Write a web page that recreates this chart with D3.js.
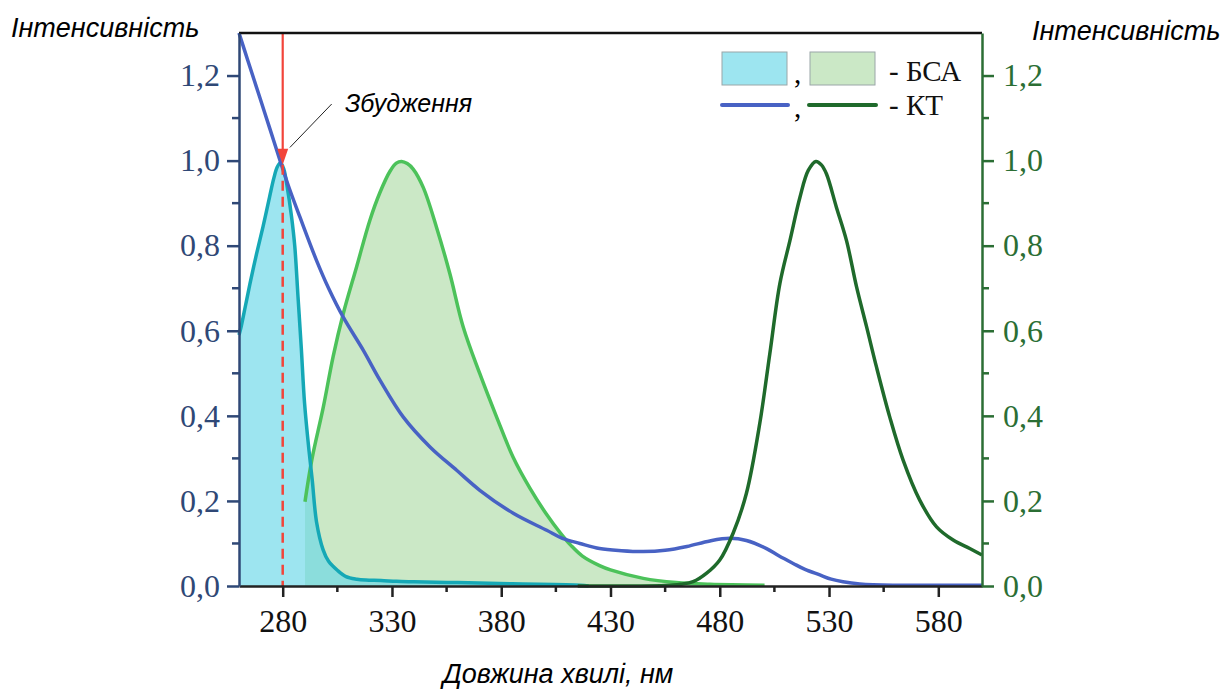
<!DOCTYPE html>
<html>
<head>
<meta charset="utf-8">
<script src="https://cdn.jsdelivr.net/npm/d3@7"></script>
<style>
  body { margin: 0; background: #fff; }
  svg { display: block; }
</style>
</head>
<body>
<script>
// BSA absorbance (cyan filled), [nm, intensity]
const bsaAbs = [
    [260, 0.59], [261, 0.61], [263, 0.66], [265, 0.71], [268, 0.78], [271, 0.845],
    [274, 0.915], [276, 0.96], [277.5, 0.985], [279, 0.995], [280.5, 0.98], [282, 0.94],
    [284, 0.87], [285.5, 0.80], [287, 0.68], [288.5, 0.56], [290, 0.43], [292, 0.32],
    [293.5, 0.25], [295.5, 0.15], [298.5, 0.085], [301, 0.058], [305, 0.037], [309, 0.022],
    [314, 0.016], [318, 0.014], [325, 0.013], [332, 0.011], [340, 0.010], [360, 0.008],
    [385, 0.005], [416, 0.002], [420, 0.0]
];

// BSA emission (green filled)
const bsaEm = [
    [290.2, 0.198], [293.3, 0.296], [298.6, 0.421], [303.1, 0.54], [307.7, 0.64],
    [313.8, 0.75], [319.9, 0.86], [324.5, 0.925], [329.1, 0.975], [332, 0.994],
    [334.4, 0.998], [337, 0.993], [339.7, 0.98], [344.3, 0.937], [350.4, 0.843],
    [356.5, 0.734], [362.6, 0.609], [370.2, 0.499], [377.9, 0.397], [385.5, 0.302],
    [393.1, 0.23], [400.8, 0.168], [407, 0.125], [412, 0.095], [417, 0.071],
    [425, 0.048], [430, 0.038], [445, 0.018], [460, 0.008], [475.5, 0.004], [500.5, 0.002]
];

// KT absorbance (blue line)
const ktAbs = [
    [260, 1.30], [264, 1.236], [269.6, 1.147], [274, 1.077], [278.8, 1.0], [283, 0.935],
    [287.9, 0.867], [295.5, 0.765], [301, 0.70], [307.7, 0.632], [316.9, 0.554],
    [324.5, 0.484], [335.2, 0.397], [347.4, 0.327], [359.6, 0.272], [370.2, 0.225],
    [385.5, 0.171], [400.8, 0.131], [408, 0.112], [416, 0.100], [425, 0.088],
    [435, 0.083], [445, 0.081], [455, 0.084], [465, 0.093], [475.5, 0.106],
    [484.6, 0.112], [492.2, 0.107], [501.4, 0.088], [507, 0.071], [513.6, 0.053],
    [519, 0.039], [525.8, 0.026], [531, 0.016], [536.4, 0.010], [544.1, 0.005],
    [559.2, 0.002], [600, 0.002]
];

// KT emission (dark green line, right axis)
const ktEm = [
    [415, 0.0], [440, 0.0], [455, 0.001], [462, 0.004], [467.8, 0.01], [474, 0.03],
    [480, 0.061], [486.1, 0.124], [492.2, 0.218], [498.3, 0.382], [502.9, 0.546],
    [507.5, 0.711], [512.1, 0.812], [516.7, 0.914], [520.5, 0.977], [524, 0.998],
    [526.5, 0.99], [528.8, 0.969], [533.4, 0.89], [538, 0.812], [542.6, 0.703],
    [547.2, 0.609], [551.7, 0.515], [557.8, 0.397], [563.9, 0.296], [571.5, 0.202],
    [579.2, 0.139], [586.8, 0.108], [594.4, 0.088], [600, 0.073]
];

const xTicks = [280, 330, 380, 430, 480, 530, 580];
const xMinor = [305, 355, 405, 455, 505, 555];
const yTicks = [0, 0.2, 0.4, 0.6, 0.8, 1.0, 1.2];
const yMinor = [0.1, 0.3, 0.5, 0.7, 0.9, 1.1];

const excitation = 280;
const arrowTip = 0.99;
const pointerLine = [[283.3, 1.031], [302.4, 1.133]];
const pointerText = [308.5, 1.115];

const yTitle = "Інтенсивність";
const xTitle = "Довжина хвилі, нм";
const exText = "Збудження";
const legendRows = ["- БСА", "- КТ"];

const width = 1222;
const height = 691;
const margin = { top: 33, right: 240, bottom: 105, left: 239 };

const navy = "#2f4876";
const kgreen = "#2b6e34";

const x = d3.scaleLinear().domain([260, 600]).range([margin.left, width - margin.right]);
const y = d3.scaleLinear().domain([0, 1.3]).range([height - margin.bottom, margin.top]);

const svg = d3.select("body").append("svg")
    .attr("width", width)
    .attr("height", height);

const fmt = d => d3.format(".1f")(d).replace(".", ",");

// fills
const curve = d3.curveCatmullRom.alpha(0.5);
const area = d3.area().x(d => x(d[0])).y0(y(0)).y1(d => y(d[1])).curve(curve);
const line = d3.line().x(d => x(d[0])).y(d => y(d[1])).curve(curve);

svg.append("path").datum(bsaEm).attr("d", area).attr("fill", "#cbe8c6");
svg.append("path").datum(bsaAbs).attr("d", area).attr("fill", "rgba(105,215,232,0.65)");

svg.append("path").datum(bsaEm).attr("d", line)
    .attr("fill", "none").attr("stroke", "#4cc25a").attr("stroke-width", 3.5);
svg.append("path").datum(bsaAbs).attr("d", line)
    .attr("fill", "none").attr("stroke", "#15a8b6").attr("stroke-width", 3.5);
svg.append("path").datum(ktAbs).attr("d", line)
    .attr("fill", "none").attr("stroke", "#4862c4").attr("stroke-width", 3.5);
svg.append("path").datum(ktEm).attr("d", line)
    .attr("fill", "none").attr("stroke", "#1f6a2b").attr("stroke-width", 3.5);

// excitation arrow + dashed line
const red = "#f2443a";
svg.append("line")
    .attr("x1", x(excitation)).attr("x2", x(excitation))
    .attr("y1", y(1.3)).attr("y2", y(arrowTip) - 12)
    .attr("stroke", red).attr("stroke-width", 2.2);
svg.append("path")
    .attr("d", `M${x(excitation) - 5.5},${y(arrowTip) - 16} L${x(excitation) + 5.5},${y(arrowTip) - 16} L${x(excitation)},${y(arrowTip)} Z`)
    .attr("fill", red);
svg.append("line")
    .attr("x1", x(excitation)).attr("x2", x(excitation))
    .attr("y1", y(arrowTip)).attr("y2", y(0))
    .attr("stroke", red).attr("stroke-width", 2.5)
    .attr("stroke-dasharray", "10,6");

svg.append("line")
    .attr("x1", x(pointerLine[0][0])).attr("y1", y(pointerLine[0][1]))
    .attr("x2", x(pointerLine[1][0])).attr("y2", y(pointerLine[1][1]))
    .attr("stroke", "#222").attr("stroke-width", 1);
svg.append("text")
    .attr("x", x(pointerText[0])).attr("y", y(pointerText[1]))
    .attr("font-family", "Liberation Sans, Arial, sans-serif")
    .attr("font-style", "italic").attr("font-size", 25)
    .text(exText);

// axes
const serif = "Liberation Serif, Times New Roman, serif";

const bottom = svg.append("g")
    .attr("transform", `translate(0,${y(0)})`)
    .call(d3.axisBottom(x).tickValues(xTicks).tickSize(11).tickSizeOuter(0).tickFormat(d => d));
bottom.select(".domain").attr("stroke", "#222").attr("stroke-width", 2.5);
bottom.selectAll(".tick line").attr("stroke", "#222").attr("stroke-width", 2.5);
bottom.selectAll(".tick text")
    .attr("font-family", serif).attr("font-size", 32).attr("fill", "#111")
    .attr("y", 46).attr("dy", 0);
bottom.selectAll(".minor").data(xMinor).enter().append("line")
    .attr("x1", d => x(d)).attr("x2", d => x(d))
    .attr("y1", 0).attr("y2", 6)
    .attr("stroke", "#222").attr("stroke-width", 2.5);

svg.append("line")
    .attr("x1", x(260)).attr("x2", x(600))
    .attr("y1", y(1.3)).attr("y2", y(1.3))
    .attr("stroke", "#111").attr("stroke-width", 2.5);

const left = svg.append("g")
    .attr("transform", `translate(${x(260)},0)`)
    .call(d3.axisLeft(y).tickValues(yTicks).tickSize(12).tickPadding(7).tickSizeOuter(0).tickFormat(fmt));
left.select(".domain").attr("stroke", navy).attr("stroke-width", 2.5);
left.selectAll(".tick line").attr("stroke", navy).attr("stroke-width", 2.5);
left.selectAll(".tick text").attr("font-family", serif).attr("font-size", 32).attr("fill", navy);
left.selectAll(".minor").data(yMinor).enter().append("line")
    .attr("x1", -7).attr("x2", 0)
    .attr("y1", d => y(d)).attr("y2", d => y(d))
    .attr("stroke", navy).attr("stroke-width", 2.5);

const right = svg.append("g")
    .attr("transform", `translate(${x(600)},0)`)
    .call(d3.axisRight(y).tickValues(yTicks).tickSize(12).tickPadding(9).tickSizeOuter(0).tickFormat(fmt));
right.select(".domain").attr("stroke", kgreen).attr("stroke-width", 2.5);
right.selectAll(".tick line").attr("stroke", kgreen).attr("stroke-width", 2.5);
right.selectAll(".tick text").attr("font-family", serif).attr("font-size", 32).attr("fill", kgreen);
right.selectAll(".minor").data(yMinor).enter().append("line")
    .attr("x1", 0).attr("x2", 7)
    .attr("y1", d => y(d)).attr("y2", d => y(d))
    .attr("stroke", kgreen).attr("stroke-width", 2.5);

// titles
const sans = "Liberation Sans, Arial, sans-serif";
svg.append("text").attr("x", 11).attr("y", 37)
    .attr("font-family", sans).attr("font-style", "italic").attr("font-size", 27)
    .text(yTitle);
svg.append("text").attr("x", 1032).attr("y", 40)
    .attr("font-family", sans).attr("font-style", "italic").attr("font-size", 27)
    .text(yTitle);
svg.append("text").attr("x", 558).attr("y", 683)
    .attr("text-anchor", "middle")
    .attr("font-family", sans).attr("font-style", "italic").attr("font-size", 27)
    .text(xTitle);

// legend
const lg = svg.append("g");
lg.append("rect").attr("x", 722).attr("y", 52).attr("width", 65).attr("height", 33)
    .attr("fill", "#9de5f0").attr("stroke", "#9aa6a8").attr("stroke-width", 1);
lg.append("rect").attr("x", 810).attr("y", 52).attr("width", 65).attr("height", 33)
    .attr("fill", "#cbe8c6").attr("stroke", "#9aa6a8").attr("stroke-width", 1);
lg.append("line").attr("x1", 722).attr("x2", 788).attr("y1", 105).attr("y2", 105)
    .attr("stroke", "#4862c4").attr("stroke-width", 4).attr("stroke-linecap", "round");
lg.append("line").attr("x1", 809).attr("x2", 876).attr("y1", 105).attr("y2", 105)
    .attr("stroke", "#1f6a2b").attr("stroke-width", 4).attr("stroke-linecap", "round");
lg.append("text").attr("x", 794).attr("y", 83)
    .attr("font-family", serif).attr("font-size", 29).text(",");
lg.append("text").attr("x", 794).attr("y", 117)
    .attr("font-family", serif).attr("font-size", 29).text(",");
lg.selectAll(".lab").data(legendRows).enter().append("text")
    .attr("x", 889).attr("y", (d, i) => 81 + i * 34)
    .attr("font-family", serif).attr("font-size", 29).attr("fill", "#111")
    .text(d => d);
</script>
</body>
</html>
